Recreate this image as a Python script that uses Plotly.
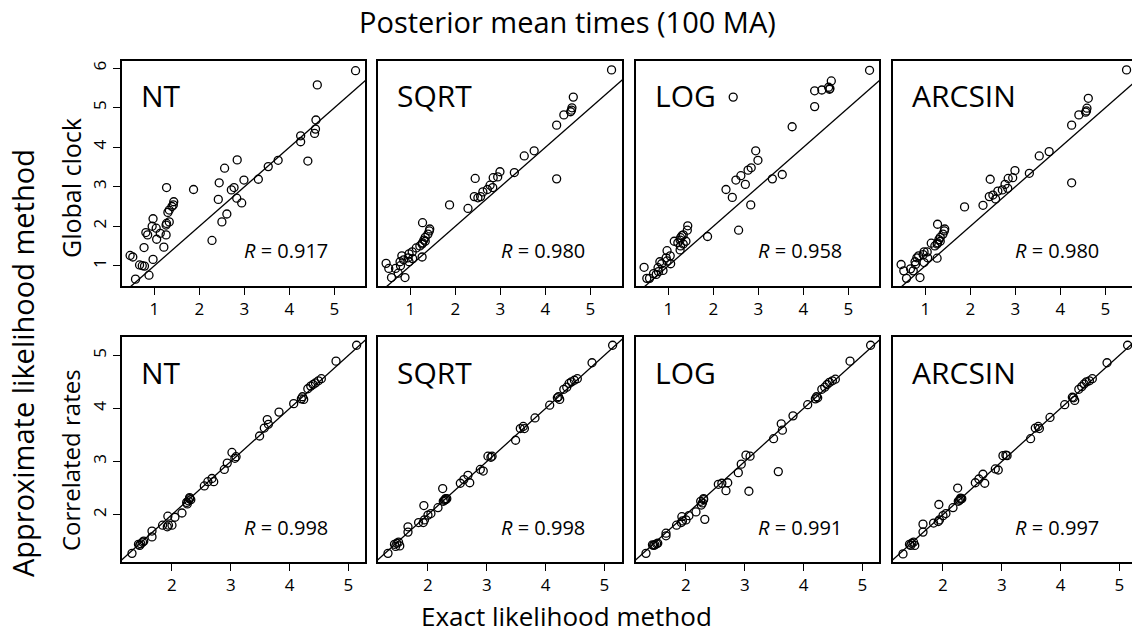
import plotly.graph_objects as go

W, H = 1132, 636
FONT = "Open Sans"

# ---- data -------------------------------------------------------------
transforms = ["NT", "SQRT", "LOG", "ARCSIN"]
row_names = ["Global clock", "Correlated rates"]

# Global clock: exact-likelihood times (shared by all four transforms)
top_exact = [5.47, 4.62, 4.59, 4.58, 4.56, 4.25, 4.25, 4.41, 3.75, 3.53, 3.31, 2.99, 2.84,
             2.56, 2.44, 2.77, 2.71, 2.42, 2.83, 2.94, 2.61, 2.50, 2.28, 1.87, 1.27, 1.43,
             1.42, 1.39, 1.33, 1.30, 1.33, 1.27, 1.26, 1.26, 1.21, 0.97, 0.95, 1.04, 1.13,
             0.81, 0.85, 1.05, 0.77, 0.97, 0.46, 0.52, 0.67, 0.73, 0.78, 0.88, 0.58]
top_nt = [5.94, 5.58, 4.69, 4.46, 4.35, 4.29, 4.14, 3.65, 3.67, 3.51, 3.19, 3.17, 3.68,
          3.47, 3.10, 2.98, 2.92, 2.68, 2.71, 2.59, 2.31, 2.11, 1.64, 2.93, 2.98, 2.62,
          2.54, 2.50, 2.41, 2.35, 2.11, 2.07, 2.03, 1.78, 1.47, 2.19, 2.00, 1.95, 1.82,
          1.84, 1.78, 1.67, 1.46, 1.16, 1.26, 1.22, 1.02, 1.00, 0.99, 0.76, 0.66]
top_sqrt = [5.96, 5.27, 5.00, 4.94, 4.90, 4.56, 3.20, 4.82, 3.91, 3.78, 3.36, 3.38, 3.23,
            2.75, 3.21, 3.04, 2.93, 2.75, 2.98, 3.25, 2.87, 2.72, 2.45, 2.54, 2.09, 1.93,
            1.88, 1.80, 1.72, 1.65, 1.62, 1.58, 1.55, 1.22, 1.50, 1.30, 1.20, 1.35, 1.45,
            1.25, 1.15, 1.18, 1.10, 1.10, 1.06, 0.93, 0.93, 0.81, 1.00, 0.70, 0.70]
top_log = [5.95, 5.68, 5.49, 5.47, 5.52, 5.43, 5.03, 5.45, 4.52, 3.31, 3.20, 3.67, 3.48,
           1.90, 5.27, 3.42, 3.06, 2.73, 2.54, 3.91, 3.28, 3.17, 2.93, 1.74, 1.71, 2.01,
           1.90, 1.62, 1.78, 1.76, 1.55, 1.50, 1.40, 1.65, 1.58, 1.38, 1.20, 1.25, 1.62,
           1.10, 1.05, 1.05, 0.95, 1.12, 0.96, 0.68, 0.80, 0.78, 0.85, 0.88, 0.68]
top_arcsin = [5.96, 5.24, 4.99, 4.92, 4.89, 4.56, 3.10, 4.82, 3.89, 3.78, 3.34, 3.41, 3.21,
              2.69, 3.19, 3.06, 2.92, 2.75, 2.96, 3.23, 2.89, 2.79, 2.53, 2.49, 2.05, 1.93,
              1.88, 1.80, 1.72, 1.66, 1.62, 1.58, 1.55, 1.19, 1.50, 1.35, 1.28, 1.35, 1.57,
              1.20, 1.25, 1.20, 1.10, 1.08, 1.03, 0.87, 0.92, 0.87, 1.03, 0.70, 0.68]

# Correlated rates: exact-likelihood times (shared by all four transforms)
bot_exact = [5.14, 4.79, 4.54, 4.49, 4.44, 4.40, 4.36, 4.31, 4.22, 4.20, 4.24, 4.07, 3.82,
             3.62, 3.64, 3.57, 3.49, 3.02, 3.09, 3.07, 2.94, 2.89, 2.71, 2.68, 2.61, 2.55,
             2.30, 2.28, 2.26, 2.32, 2.25, 2.30, 2.17, 2.05, 1.93, 2.00, 1.94, 1.92, 1.84,
             1.66, 1.66, 1.50, 1.47, 1.45, 1.52, 1.43, 1.32]
bot_nt = [5.19, 4.89, 4.56, 4.52, 4.48, 4.45, 4.42, 4.37, 4.22, 4.18, 4.17, 4.09, 3.93,
          3.79, 3.70, 3.63, 3.48, 3.17, 3.09, 3.06, 2.97, 2.85, 2.62, 2.68, 2.62, 2.54,
          2.30, 2.26, 2.20, 2.28, 2.23, 2.32, 2.03, 1.95, 1.97, 1.80, 1.80, 1.77, 1.80,
          1.69, 1.58, 1.48, 1.45, 1.42, 1.50, 1.44, 1.27]
bot_sqrt = [5.19, 4.86, 4.56, 4.53, 4.50, 4.47, 4.40, 4.36, 4.22, 4.20, 4.17, 4.06, 3.82,
            3.66, 3.62, 3.62, 3.40, 3.10, 3.10, 3.08, 2.82, 2.85, 2.60, 2.74, 2.66, 2.59,
            2.30, 2.27, 2.25, 2.30, 2.49, 2.28, 2.13, 2.02, 2.17, 1.99, 1.90, 1.85, 1.85,
            1.77, 1.67, 1.48, 1.46, 1.40, 1.41, 1.44, 1.27]
bot_log = [5.19, 4.89, 4.55, 4.52, 4.49, 4.45, 4.40, 4.36, 4.22, 4.18, 4.20, 4.07, 3.86,
           3.71, 3.59, 2.81, 3.43, 3.12, 3.10, 2.44, 2.95, 2.79, 2.60, 2.45, 2.59, 2.57,
           2.28, 2.22, 2.18, 1.91, 2.25, 2.30, 2.05, 1.98, 1.96, 1.90, 1.88, 1.85, 1.80,
           1.65, 1.60, 1.45, 1.43, 1.42, 1.46, 1.43, 1.27]
bot_arcsin = [5.19, 4.86, 4.56, 4.52, 4.50, 4.46, 4.41, 4.36, 4.20, 4.21, 4.15, 4.07, 3.83,
              3.66, 3.62, 3.63, 3.43, 3.11, 3.11, 3.12, 2.84, 2.86, 2.59, 2.76, 2.67, 2.60,
              2.29, 2.27, 2.25, 2.30, 2.50, 2.31, 2.13, 2.02, 2.19, 1.98, 1.90, 1.87, 1.84,
              1.82, 1.67, 1.48, 1.46, 1.42, 1.42, 1.44, 1.26]

top_r = [0.917, 0.980, 0.958, 0.980]
bot_r = [0.998, 0.998, 0.991, 0.997]

top_ticks_x = [1, 2, 3, 4, 5]
top_ticks_y = [1, 2, 3, 4, 5, 6]
bot_ticks_x = [2, 3, 4, 5]
bot_ticks_y = [2, 3, 4, 5]

# ---- layout geometry (pixels) -----------------------------------------
col_px = [(122, 365), (378, 622), (636, 879), (893, 1132)]
row_px = [(61, 286), (337, 562)]
x_px_per_unit = [45.0, 58.8]
x_left = [0.28, 1.15]
y_range = [(0.486, 6.185), (1.107, 5.345)]


def px(x):
    return x / W


def py(y):
    return 1 - y / H


rows = [
    dict(exact=top_exact, ys=[top_nt, top_sqrt, top_log, top_arcsin], r=top_r,
         xt=top_ticks_x, yt=top_ticks_y),
    dict(exact=bot_exact, ys=[bot_nt, bot_sqrt, bot_log, bot_arcsin], r=bot_r,
         xt=bot_ticks_x, yt=bot_ticks_y),
]

fig = go.Figure()
layout = {}
annotations = []

for ri, row in enumerate(rows):
    top, bottom = row_px[ri]
    for ci in range(4):
        k = ri * 4 + ci + 1
        xa = "x" if k == 1 else f"x{k}"
        ya = "y" if k == 1 else f"y{k}"
        left, right = col_px[ci]
        xr = (x_left[ri], x_left[ri] + (right - left) / x_px_per_unit[ri])
        yr = y_range[ri]

        layout["xaxis" if k == 1 else f"xaxis{k}"] = dict(
            domain=[px(left), px(right)], range=list(xr), anchor=ya,
            showgrid=False, zeroline=False, showline=True, mirror=True,
            linecolor="black", linewidth=1.6,
            ticks="outside", ticklen=7, tickwidth=1.3, tickcolor="black",
            tickvals=row["xt"], ticktext=[str(v) for v in row["xt"]],
            tickfont=dict(family=FONT, size=17, color="black"),
            ticklabelstandoff=0,
        )
        layout["yaxis" if k == 1 else f"yaxis{k}"] = dict(
            domain=[py(bottom), py(top)], range=list(yr), anchor=xa,
            showgrid=False, zeroline=False, showline=True, mirror=(ci != 3),
            linecolor="black", linewidth=1.6,
            ticks="outside" if ci == 0 else "", ticklen=7, tickwidth=1.3,
            tickcolor="black",
            showticklabels=(ci == 0), tickangle=-90,
            tickvals=row["yt"], ticktext=[str(v) for v in row["yt"]],
            tickfont=dict(family=FONT, size=17, color="black"),
            ticklabelstandoff=0,
        )

        # y = x reference line across the panel
        lo = min(xr[0], yr[0]) - 1
        hi = max(xr[1], yr[1]) + 1
        fig.add_trace(go.Scatter(
            x=[lo, hi], y=[lo, hi], mode="lines", xaxis=xa, yaxis=ya,
            line=dict(color="black", width=1.3), hoverinfo="skip", showlegend=False,
        ))
        fig.add_trace(go.Scatter(
            x=row["exact"], y=row["ys"][ci], mode="markers", xaxis=xa, yaxis=ya,
            marker=dict(symbol="circle-open", size=8, color="black",
                        line=dict(color="black", width=1.3)),
            showlegend=False,
        ))

        annotations.append(dict(
            text=transforms[ci], xref="paper", yref="paper",
            x=px(left + 17), y=py(top + 35), xanchor="left", yanchor="middle",
            showarrow=False, font=dict(family=FONT, size=30, color="black"),
        ))
        annotations.append(dict(
            text=f"<i>R</i> = {row['r'][ci]:.3f}", xref="paper", yref="paper",
            x=px(right - 35 if ci < 3 else right - 31), y=py(bottom - 35),
            xanchor="right", yanchor="middle",
            showarrow=False, font=dict(family=FONT, size=20, color="black"),
        ))

annotations += [
    dict(text="Posterior mean times (100 MA)", x=px(567), y=py(21),
         font=dict(family=FONT, size=29, color="black")),
    dict(text="Exact likelihood method", x=px(566), y=py(616),
         font=dict(family=FONT, size=26, color="black")),
    dict(text="Approximate likelihood method", x=px(22), y=py(363), textangle=-90,
         font=dict(family=FONT, size=29, color="black")),
    dict(text=row_names[0], x=px(71), y=py(188), textangle=-90,
         font=dict(family=FONT, size=25, color="black")),
    dict(text=row_names[1], x=px(71), y=py(460), textangle=-90,
         font=dict(family=FONT, size=24, color="black")),
]
for a in annotations[-5:]:
    a.update(xref="paper", yref="paper", xanchor="center", yanchor="middle",
             showarrow=False, borderpad=0)

fig.update_layout(
    width=W, height=H, margin=dict(l=0, r=0, t=0, b=0),
    paper_bgcolor="white", plot_bgcolor="white",
    annotations=annotations, **layout,
)

fig.write_html("out.html")
